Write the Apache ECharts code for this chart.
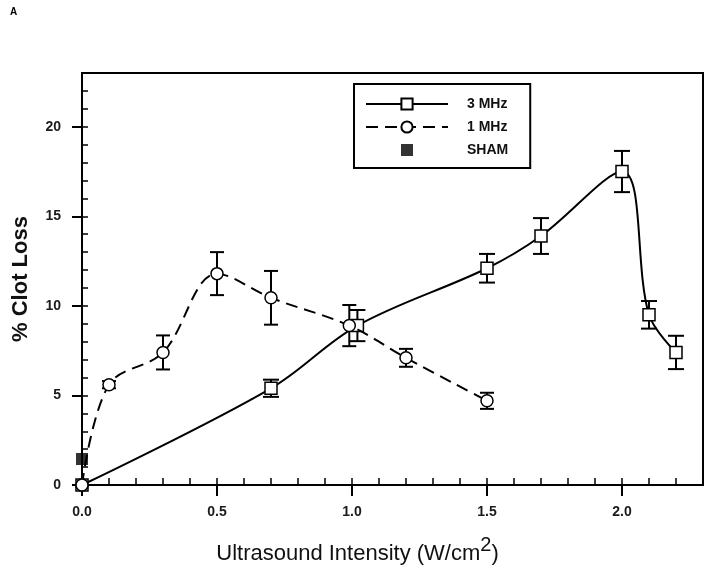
<!DOCTYPE html>
<html><head><meta charset="utf-8">
<script src="https://cdn.jsdelivr.net/npm/echarts@6/dist/echarts.min.js"></script>
<style>html,body{margin:0;padding:0;background:#fff}#c{width:712px;height:578px}</style>
</head><body><div id="c"></div>
<script>
// 3 MHz series
const x3MHz = [0, 0.7, 1.02, 1.5, 1.7, 2.0, 2.1, 2.2];
const y3MHz = [0, 5.4, 8.9, 12.1, 13.9, 17.5, 9.5, 7.4];
const err3MHz = [0, 0.48, 0.87, 0.8, 1.0, 1.15, 0.77, 0.93];
// 1 MHz series
const x1MHz = [0, 0.1, 0.3, 0.5, 0.7, 0.99, 1.2, 1.5];
const y1MHz = [0, 5.6, 7.4, 11.8, 10.45, 8.9, 7.1, 4.7];
const err1MHz = [0, 0.2, 0.95, 1.2, 1.5, 1.15, 0.5, 0.45];
// SHAM
const xSham = [0];
const ySham = [1.45];
const errShamLow = [0.75];
// axis ticks
const xMajorTicks = [0, 0.5, 1.0, 1.5, 2.0];
const yMajorTicks = [0, 5, 10, 15, 20];

const FONT = 'Liberation Sans, Arial, Helvetica, sans-serif';
const pts = (xs, ys) => xs.map((x, i) => [x, ys[i]]);
const errData = (xs, ys, es) => xs.map((x, i) => [x, ys[i] - es[i], ys[i] + es[i]]);

function errRender(cap) {
  return function (params, api) {
    const x = api.value(0), lo = api.value(1), hi = api.value(2);
    if (hi === lo) return null;
    const a = api.coord([x, hi]), b = api.coord([x, lo]);
    const st = { stroke: '#000', lineWidth: 2 };
    const ch = [{ type: 'line', shape: { x1: a[0], y1: a[1], x2: b[0], y2: b[1] }, style: st }];
    if (cap > 0) {
      ch.push({ type: 'line', shape: { x1: a[0] - cap, y1: a[1], x2: a[0] + cap, y2: a[1] }, style: st });
      ch.push({ type: 'line', shape: { x1: b[0] - cap, y1: b[1], x2: b[0] + cap, y2: b[1] }, style: st });
    }
    return { type: 'group', children: ch };
  };
}

const chart = echarts.init(document.getElementById('c'), null, { renderer: 'canvas' });
const axisCommon = { lineStyle: { color: '#000', width: 2 } };
chart.setOption({
  animation: false,
  backgroundColor: '#fff',
  title: { text: 'A', left: 5, top: 2, textStyle: { fontSize: 10, fontWeight: 'bold', fontFamily: FONT, color: '#000' } },
  grid: { left: 82, right: 9, top: 73, bottom: 93, show: true, borderColor: '#000', borderWidth: 2, outerBoundsMode: 'none' },
  legend: {
    orient: 'vertical', left: 354, top: 84,
    padding: [13, 22, 11, 11],
    itemWidth: 82, itemHeight: 14, itemGap: 9,
    borderColor: '#000', borderWidth: 2,
    textStyle: { fontSize: 14, fontWeight: 'bold', fontFamily: FONT, color: '#111', padding: [0, 0, 0, 14] },
    data: ['3 MHz', '1 MHz', { name: 'SHAM', icon: 'path://M-1 -1L-1 -1M0 0H12V12H0ZM13 13L13 13' }]
  },
  xAxis: [
    {
      type: 'value', min: 0, max: 2.3, interval: 0.5,
      axisLine: axisCommon,
      axisTick: { length: 11, lineStyle: { color: '#000', width: 2 } },
      axisLabel: { margin: 20, fontSize: 14, fontWeight: 'bold', fontFamily: FONT, color: '#1a1a1a', showMaxLabel: false,
        formatter: v => xMajorTicks.some(t => Math.abs(t - v) < 1e-6) ? v.toFixed(1) : '' },
      splitLine: { show: false },
      name: '{a|Ultrasound Intensity (W/cm}{s|2}{a|)}',
      nameLocation: 'middle', nameGap: 50,
      nameTextStyle: {
        padding: [0, 70, 0, 0],
        rich: {
          a: { fontSize: 22, fontFamily: FONT, color: '#111', verticalAlign: 'bottom', lineHeight: 30 },
          s: { fontSize: 20, fontFamily: FONT, color: '#111', verticalAlign: 'top', lineHeight: 20 }
        }
      }
    },
    {
      type: 'value', min: 0, max: 2.3, interval: 0.1,
      axisLine: { show: false },
      axisTick: { length: 7, lineStyle: { color: '#000', width: 1.5 } },
      axisLabel: { show: false }, splitLine: { show: false }
    }
  ],
  yAxis: [
    {
      type: 'value', min: 0, max: 23, interval: 5,
      axisLine: axisCommon,
      axisTick: { length: 10, lineStyle: { color: '#000', width: 2 } },
      axisLabel: { margin: 21, fontSize: 14, fontWeight: 'bold', fontFamily: FONT, color: '#1a1a1a', showMaxLabel: false,
        formatter: v => yMajorTicks.indexOf(v) >= 0 ? String(v) : '' },
      splitLine: { show: false },
      name: '% Clot Loss', nameLocation: 'middle', nameGap: 50, nameRotate: 90,
      nameTextStyle: { fontSize: 22, fontWeight: 'bold', fontFamily: FONT, color: '#111' }
    },
    {
      type: 'value', min: 0, max: 23, interval: 1,
      axisLine: { show: false },
      axisTick: { length: 6, lineStyle: { color: '#000', width: 1.5 } },
      axisLabel: { show: false }, splitLine: { show: false }
    }
  ],
  series: [
    { type: 'custom', name: 'err3', renderItem: errRender(8), data: errData(x3MHz, y3MHz, err3MHz), z: 1, silent: true, clip: false },
    { type: 'custom', name: 'err1', renderItem: errRender(7), data: errData(x1MHz, y1MHz, err1MHz), z: 1, silent: true, clip: false },
    { type: 'custom', name: 'errSham', renderItem: errRender(0), data: xSham.map((x, i) => [x, errShamLow[i], ySham[i]]), z: 1, silent: true, clip: false },
    {
      type: 'line', name: '3 MHz', data: pts(x3MHz, y3MHz), smooth: 0.35, clip: false, z: 3,
      symbol: 'rect', symbolSize: 12,
      lineStyle: { color: '#000', width: 2 },
      itemStyle: { color: '#fff', borderColor: '#000', borderWidth: 1.5 }
    },
    {
      type: 'line', name: '1 MHz', data: pts(x1MHz, y1MHz), smooth: 0.35, clip: false, z: 4,
      symbol: 'circle', symbolSize: 12,
      lineStyle: { color: '#000', width: 2, type: [12, 7] },
      itemStyle: { color: '#fff', borderColor: '#000', borderWidth: 1.5 }
    },
    {
      type: 'scatter', name: 'SHAM', data: pts(xSham, ySham), clip: false, z: 5,
      symbol: 'rect', symbolSize: 12,
      itemStyle: { color: '#000' }
    }
  ]
});
</script>
</body></html>
